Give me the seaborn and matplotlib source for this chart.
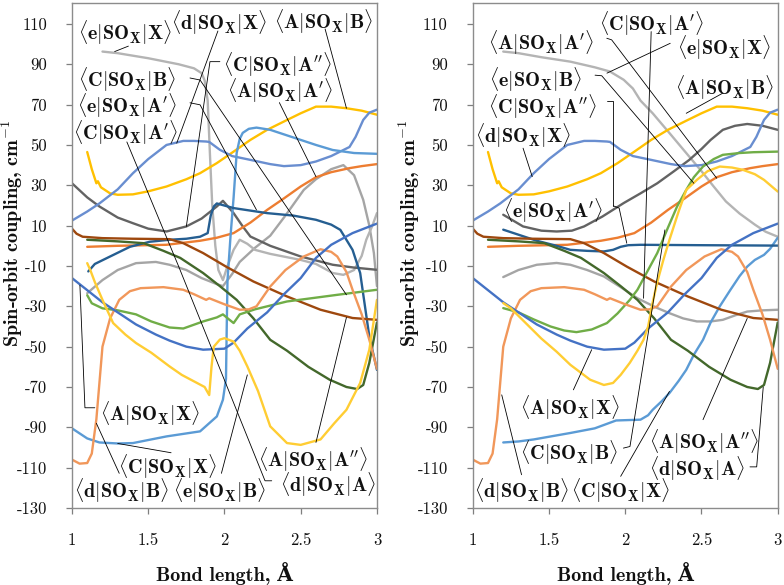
import numpy as np
import pandas as pd
import matplotlib
matplotlib.use("Agg")
import matplotlib.pyplot as plt
import seaborn as sns

# ---------------- data (bond length in Angstrom, coupling in cm-1) ----------------
# curves identical in both panels
AB_x = [1.1, 1.13, 1.16, 1.17, 1.19, 1.25, 1.3, 1.4, 1.5, 1.62, 1.75, 1.84, 1.95, 2.06, 2.17, 2.28, 2.4, 2.5, 2.6, 2.7, 2.8, 2.9, 3.0]
AB_y = [46.5, 38, 31, 32, 29, 26, 25.3, 25.5, 27, 29.4, 33, 36, 41, 46.7, 52.5, 57.5, 62, 65.7, 69, 69, 68.2, 67, 65]
dX_x = [1.0, 1.1, 1.18, 1.3, 1.4, 1.5, 1.62, 1.73, 1.8, 1.88, 1.9, 1.97, 2.05, 2.17, 2.3, 2.39, 2.5, 2.6, 2.7, 2.82, 2.86, 2.91, 2.95, 3.0]
dX_y = [12.5, 17, 21, 28, 36, 43, 50, 52, 52, 51.7, 51.5, 47.6, 44.5, 42.6, 40.5, 39.5, 40, 41.8, 44.5, 49, 54, 62.4, 66, 67.5]
AAp_x = [1.1, 1.3, 1.62, 1.84, 1.95, 2.06, 2.17, 2.28, 2.39, 2.5, 2.6, 2.7, 2.82, 2.9, 3.0]
AAp_y = [-0.5, 0, 0.5, 2.5, 4, 6.3, 11.5, 17.8, 23.5, 29.4, 34, 36.5, 38.5, 39.5, 40.5]
AApp_x = [1.0, 1.03, 1.07, 1.2, 1.4, 1.64, 1.73, 1.86, 2.01, 2.19, 2.41, 2.63, 2.84, 3.0]
AApp_y = [8.5, 6, 4.5, 3.8, 3.5, 3.3, 1.3, -3.6, -10.3, -17.7, -25.1, -31.7, -35.8, -36.7]
dA_x = [1.1, 1.3, 1.47, 1.6, 1.71, 1.86, 1.97, 2.08, 2.19, 2.3, 2.41, 2.55, 2.69, 2.8, 2.87, 2.91, 2.95, 3.0]
dA_y = [3, 2.2, 1.3, -2.5, -6, -13.5, -20, -26.8, -36, -46.6, -52, -60, -66.4, -70, -71, -69, -58, -38]
dB_x = [1.0, 1.05, 1.1, 1.13, 1.16, 1.18, 1.2, 1.25, 1.31, 1.38, 1.45, 1.6, 1.73, 1.8, 1.88, 1.9, 2.0, 2.1, 2.16, 2.21, 2.3, 2.4, 2.52, 2.63, 2.7, 2.74, 2.8, 2.84, 2.9, 2.95, 3.0]
dB_y = [-106, -108, -107.7, -103, -86, -68, -50, -36, -26.8, -22.5, -21, -20.5, -21.8, -24, -26.8, -26, -29, -31.7, -31.5, -30, -20.2, -12, -5.3, -1.7, -3, -5.3, -13, -21.8, -34, -46.6, -61]
AX_x = [1.0, 1.1, 1.2, 1.3, 1.42, 1.55, 1.64, 1.75, 1.86, 2.0, 2.06, 2.15, 2.28, 2.39, 2.5, 2.6, 2.7, 2.84, 3.0]
AX_y = [-16, -22, -28, -33, -39, -44, -47, -50, -51.5, -51, -48, -41, -33, -24, -16, -6, 0.5, 6.3, 11]

# left panel only
eX_L_x = [1.2, 1.3, 1.5, 1.7, 1.8, 1.85, 1.87, 1.89, 1.905, 1.92, 1.94, 1.96, 1.99, 2.02, 2.06, 2.1, 2.15, 2.2, 2.3, 2.5, 2.6, 2.71, 2.78, 2.85, 2.9, 2.93, 2.97, 3.0]
eX_L_y = [96.3, 95.5, 93, 90, 88, 85.6, 82, 72, 45, 20, 0, -12, -17, -10, -2, 3, 1, -2, -4, -7, -9, -13.5, -14.4, -12, -5, 3, 10, 16.2]
CAp_L_x = [1.1, 1.2, 1.3, 1.42, 1.55, 1.64, 1.75, 1.85, 1.95, 1.99, 2.05, 2.1, 2.2, 2.3, 2.4, 2.52, 2.6, 2.7, 2.78, 2.85, 2.91, 2.95, 2.98, 3.0]
CAp_L_y = [-23.5, -17, -12, -8.6, -8, -9.4, -12, -16, -19, -20, -14, -8, -1, 5, 15, 27.7, 33, 38, 40, 35, 22.8, 10, -3.6, -20]
CApp_L_x = [1.0, 1.1, 1.18, 1.3, 1.4, 1.5, 1.62, 1.75, 1.85, 1.95, 1.99, 2.06, 2.12, 2.17, 2.3, 2.5, 2.71, 2.85, 3.0]
CApp_L_y = [31, 24, 19.5, 14, 11.2, 8.5, 7.1, 9.6, 13.5, 19.5, 22.3, 16.2, 9.6, 4.6, 0, -5.3, -9.4, -10.8, -11.9]
eAp_L_x = [1.107, 1.15, 1.25, 1.38, 1.51, 1.64, 1.75, 1.84, 1.89, 1.91, 1.93, 1.95, 2.06, 2.28, 2.45, 2.6, 2.7, 2.76, 2.84, 2.89, 2.95, 3.0]
eAp_L_y = [-12.7, -9, -5.3, -0.5, 2, 3, 3.5, 4.5, 6.3, 15, 19.5, 21, 18.7, 16.2, 15, 12.9, 10.5, 7.9, -2, -13.5, -45, -61.5]
CX_L_x = [1.0, 1.1, 1.18, 1.3, 1.4, 1.62, 1.84, 1.95, 1.99, 2.01, 2.015, 2.02, 2.04, 2.06, 2.08, 2.1, 2.12, 2.16, 2.21, 2.3, 2.4, 2.5, 2.6, 2.71, 2.85, 3.0]
CX_L_y = [-90.5, -95.5, -97.5, -98, -97.8, -94.5, -92, -84.6, -76.3, -66, -40, -17, 5, 24, 46, 53, 56, 58, 58.6, 57.5, 55, 52.5, 50, 47.5, 46, 45.6]
CB_L_x = [1.1, 1.13, 1.2, 1.3, 1.42, 1.52, 1.64, 1.73, 1.86, 1.95, 1.99, 2.03, 2.06, 2.1, 2.2, 2.41, 2.74, 3.0]
CB_L_y = [-24.5, -28.5, -31, -32, -34, -37.5, -40.5, -41, -37.5, -35.5, -34, -36.5, -38.3, -34, -31.5, -27.6, -24.3, -21.8]
eB_L_x = [1.1, 1.12, 1.15, 1.2, 1.27, 1.35, 1.42, 1.52, 1.64, 1.72, 1.82, 1.87, 1.9, 1.915, 1.93, 1.97, 2.0, 2.06, 2.1, 2.15, 2.22, 2.3, 2.41, 2.5, 2.63, 2.72, 2.8, 2.89, 2.95, 3.0]
eB_L_y = [-8.6, -12, -18, -26.8, -38.3, -44, -48.2, -53, -59.8, -64, -68, -70, -74, -60, -50, -46.5, -45.8, -47.5, -52, -59.8, -72, -89.5, -97.8, -98.7, -96, -88, -81.3, -68, -51.5, -26.8]

# right panel only
eX_R_x = [1.2, 1.3, 1.45, 1.64, 1.8, 1.9, 1.99, 2.05, 2.1, 2.18, 2.3, 2.4, 2.5, 2.58, 2.66, 2.75, 2.85, 2.92, 3.0]
eX_R_y = [96.3, 95.5, 93.5, 91.3, 88.5, 86.4, 82.3, 78, 72, 65.7, 55, 46, 37, 29.4, 22, 16, 10.5, 7, 4.5]
CAp_R_x = [1.2, 1.3, 1.42, 1.55, 1.64, 1.75, 1.86, 1.97, 2.08, 2.2, 2.29, 2.38, 2.47, 2.56, 2.64, 2.72, 2.8, 2.9, 3.0]
CAp_R_y = [-15.5, -12, -9.4, -8.5, -9.4, -12, -15.2, -20.5, -26, -30.5, -33.4, -36, -37.5, -37.5, -36.7, -34.5, -32.6, -32, -31.7]
CApp_R_x = [1.2, 1.33, 1.45, 1.55, 1.65, 1.73, 1.85, 1.99, 2.1, 2.21, 2.32, 2.42, 2.5, 2.56, 2.64, 2.72, 2.8, 2.9, 3.0]
CApp_R_y = [15.4, 9.6, 7.5, 7.1, 7.5, 9.6, 14.5, 21.2, 26, 31, 37, 42.6, 48, 52.5, 57.5, 59.5, 60.4, 59.5, 57.5]
eAp_R_x = [1.2, 1.3, 1.42, 1.55, 1.64, 1.75, 1.86, 1.92, 1.97, 2.02, 2.1, 2.5, 3.0]
eAp_R_y = [8, 5.5, 2.5, 0, -2, -2.5, -2.8, -2, -0.5, 0.3, 0.5, 0.3, 0.1]
CX_R_x = [1.2, 1.3, 1.4, 1.55, 1.64, 1.8, 1.94, 2.1, 2.15, 2.18, 2.24, 2.29, 2.35, 2.4, 2.45, 2.51, 2.56, 2.62, 2.69, 2.75, 2.8, 2.85, 2.91, 2.95, 3.0]
CX_R_y = [-97.5, -97, -96, -94, -92.8, -90.5, -86.6, -86.2, -84, -81.3, -77, -73, -67, -61.5, -54, -46.6, -38, -30, -21.8, -15, -10.3, -7, -4.5, -1.5, 4]
CB_R_x = [1.2, 1.3, 1.4, 1.51, 1.6, 1.68, 1.78, 1.88, 1.95, 2.03, 2.08, 2.15, 2.21, 2.28, 2.34, 2.4, 2.45, 2.51, 2.58, 2.64, 2.75, 2.84, 3.0]
CB_R_y = [-30.9, -33, -36.5, -40, -42, -42.8, -41.5, -38.3, -33.5, -26.8, -21.8, -12, -3.6, 9, 19.5, 27.7, 34, 39.3, 43, 45.1, 46, 46.4, 46.7]
eB_R_x = [1.2, 1.25, 1.33, 1.45, 1.55, 1.64, 1.77, 1.86, 1.92, 1.97, 2.03, 2.08, 2.12, 2.15, 2.18, 2.21, 2.25, 2.29, 2.35, 2.4, 2.47, 2.54, 2.62, 2.7, 2.77, 2.85, 2.91, 3.0]
eB_R_y = [-28.4, -31, -37, -46, -52.5, -59, -66.4, -69, -68, -64, -58, -52, -46.6, -40, -28, -18, -7, 3, 17, 27.7, 32.7, 37, 39.3, 38.8, 37.7, 35.5, 32.7, 26.9]

# colours
C_AX, C_AAp, C_AApp, C_AB = "#4472C4", "#ED7D31", "#9E480E", "#FFC000"
C_CX, C_CAp, C_CApp, C_CB = "#5B9BD5", "#A5A5A5", "#636363", "#70AD47"
C_dX, C_dA, C_dB = "#698ED0", "#43682B", "#F1975A"
C_eX, C_eAp, C_eB = "#B4B4B4", "#255E91", "#FFCD33"

# tick labels
X_TICKS = [1, 1.5, 2, 2.5, 3]
X_TICK_LABELS = ["1", "1.5", "2", "2.5", "3"]
Y_TICKS = list(range(-130, 111, 20))
Y_TICK_LABELS = [str(v) for v in Y_TICKS]

# annotation labels: (bra, ket)
L_LABELS = [("e", "X"), ("d", "X"), ("A", "B"), ("C", "A''"), ("A", "A'"), ("C", "B"), ("e", "A'"),
            ("C", "A'"), ("A", "X"), ("C", "X"), ("d", "B"), ("e", "B"), ("A", "A''"), ("d", "A")]
L_POS = [(1.348, 105.8), (1.964, 110.7), (2.65, 111), (2.347, 89.7), (2.364, 76.8), (1.36, 82.6), (1.36, 69.4),
         (1.35, 56.3), (1.51, -83.3), (1.626, -109.5), (1.326, -121.2), (1.97, -121.2), (2.58, -105.8), (2.68, -118.6)]
L_LEAD = [[(1.28, 96.3), (1.37, 99)],
          [(1.957, 106.5), (1.687, 50.9)],
          [(2.66, 107.5), (2.80, 68.2)],
          [(1.97, 91.3), (1.905, 91.3), (1.75, 9.6)],
          [(2.36, 71), (2.60, 34.3)],
          [(1.774, 83.2), (1.84, 82.2), (2.80, -24.3)],
          [(1.774, 70.9), (1.84, 69.9), (2.21, 17.8)],
          [(1.36, 51.5), (1.70, -10.3)],
          [(1.15, -80.3), (1.085, -80.3), (1.052, -19.5)],
          [(1.65, -102.6), (1.30, -98)],
          [(1.31, -112.8), (1.16, -88)],
          [(1.98, -112.8), (2.15, -64)],
          [(2.60, -97.5), (2.80, -35.5)],
          [(2.31, -116.5), (2.266, -116.5), (1.70, -10.3)]]

R_LABELS = [("A", "A'"), ("C", "A'"), ("e", "X"), ("e", "B"), ("C", "A''"), ("A", "B"), ("d", "X"),
            ("e", "A'"), ("A", "X"), ("C", "B"), ("d", "B"), ("C", "X"), ("A", "A''"), ("d", "A")]
R_POS = [(1.445, 100.6), (2.17, 110), (2.65, 98), (1.41, 82.6), (1.46, 68.9), (2.65, 78.5), (1.327, 54.5),
         (1.527, 17.3), (1.64, -80), (1.63, -102.6), (1.32, -121.2), (1.966, -121.2), (2.517, -97.0), (2.47, -110.6)]
R_LEAD = [[(1.879, 102.9), (1.911, 102.1), (2.60, 33.5)],
          [(2.17, 106.2), (2.12, -26)],
          [(2.295, 100.4), (1.88, 85.6)],
          [(1.802, 84.6), (1.846, 84.3), (2.45, 31)],
          [(1.879, 72.0), (1.922, 72.0), (1.922, 19.8)],
          [(2.64, 75.7), (2.40, 65.7)],
          [(1.33, 48.4), (1.39, 34.3)],
          [(1.922, 19.8), (1.96, 18.7), (2.01, 1.3)],
          [(1.66, -71.4), (1.78, -51.5)],
          [(1.988, -100.3), (2.031, -99.5), (2.26, 7.9)],
          [(1.32, -113.5), (1.19, -73.9)],
          [(1.97, -114.3), (2.29, -72.2)],
          [(2.51, -86.2), (2.80, -36)],
          [(2.818, -109.6), (2.862, -109.6), (2.905, -70)]]

# ---------------- style ----------------
sns.set_theme(style="white")
plt.rcParams["mathtext.fontset"] = "cm"
plt.rcParams["font.family"] = ["DejaVu Serif"]
plt.rcParams["axes.unicode_minus"] = False

LEFT_CURVES = [
    (CAp_L_x, CAp_L_y, C_CAp), (eX_L_x, eX_L_y, C_eX), (CApp_L_x, CApp_L_y, C_CApp),
    (AB_x, AB_y, C_AB), (dX_x, dX_y, C_dX), (AAp_x, AAp_y, C_AAp),
    (CX_L_x, CX_L_y, C_CX), (eAp_L_x, eAp_L_y, C_eAp), (AApp_x, AApp_y, C_AApp),
    (dA_x, dA_y, C_dA), (CB_L_x, CB_L_y, C_CB), (dB_x, dB_y, C_dB),
    (AX_x, AX_y, C_AX), (eB_L_x, eB_L_y, C_eB),
]
RIGHT_CURVES = [
    (CAp_R_x, CAp_R_y, C_CAp), (eX_R_x, eX_R_y, C_eX), (CApp_R_x, CApp_R_y, C_CApp),
    (AB_x, AB_y, C_AB), (dX_x, dX_y, C_dX), (AAp_x, AAp_y, C_AAp),
    (CX_R_x, CX_R_y, C_CX), (eAp_R_x, eAp_R_y, C_eAp), (AApp_x, AApp_y, C_AApp),
    (dA_x, dA_y, C_dA), (CB_R_x, CB_R_y, C_CB), (dB_x, dB_y, C_dB),
    (AX_x, AX_y, C_AX), (eB_R_x, eB_R_y, C_eB),
]


def bracket(bra, ket):
    return r"$\langle\mathbf{%s}|\mathbf{SO_X}|\mathbf{%s}\rangle$" % (bra, ket)


fig = plt.figure(figsize=(7.84, 5.85), dpi=100)
ax_l = fig.add_axes([0.0918, 0.1316, 0.389, 0.863])
ax_r = fig.add_axes([0.6030, 0.1316, 0.389, 0.863])

for ax, curves, labels, pos, leads, ylab_x in [(ax_l, LEFT_CURVES, L_LABELS, L_POS, L_LEAD, -0.155),
                                               (ax_r, RIGHT_CURVES, R_LABELS, R_POS, R_LEAD, -0.165)]:
    for xs, ys, col in curves:
        df = pd.DataFrame({"x": xs, "y": ys})
        sns.lineplot(data=df, x="x", y="y", ax=ax, color=col, linewidth=1.7,
                     estimator=None, sort=False, zorder=2)
    for (bra, ket), (tx, ty), lead in zip(labels, pos, leads):
        ax.text(tx, ty, bracket(bra, ket), ha="center", va="center", fontsize=14.5,
                color="#111111", zorder=6, clip_on=False)
        lx = [p[0] for p in lead]
        ly = [p[1] for p in lead]
        ax.plot(lx, ly, color="black", linewidth=0.6, zorder=5, clip_on=False)

    ax.set_xlim(1, 3)
    ax.set_ylim(-130, 120.3)
    ax.set_xticks(X_TICKS)
    ax.set_xticklabels(X_TICK_LABELS, fontfamily="cmr10", fontsize=12)
    ax.set_yticks(Y_TICKS)
    ax.set_yticklabels(Y_TICK_LABELS, fontfamily="cmr10", fontsize=12)
    ax.tick_params(axis="both", direction="out", length=4, width=0.9, color="#7f7f7f",
                   pad=14, labelcolor="#111111", bottom=True, left=True)
    for sp in ax.spines.values():
        sp.set_color("#8c8c8c")
        sp.set_linewidth(1.0)
    ax.set_xlabel("Bond length, Å", fontfamily=["cmb10", "DejaVu Serif"], fontweight="bold",
                  fontsize=14.5, color="#111111")
    ax.set_ylabel(r"Spin-orbit coupling, cm$^{\mathbf{-1}}$", fontfamily=["cmb10", "DejaVu Serif"],
                  fontweight="bold", fontsize=14.5, color="#111111")
    ax.xaxis.set_label_coords(0.5, -0.107)
    ax.yaxis.set_label_coords(ylab_x, 0.5436)
    ax.grid(False)

fig.savefig("out.png", dpi=100)
